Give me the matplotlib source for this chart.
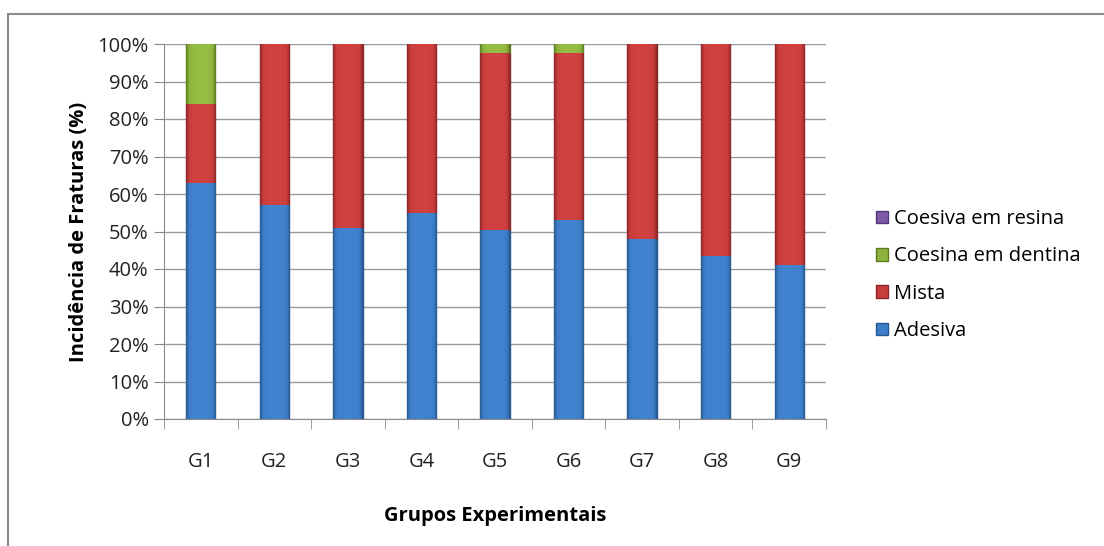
import matplotlib
matplotlib.use("Agg")
import matplotlib.pyplot as plt
import numpy as np
from matplotlib.patches import Rectangle
from matplotlib.colors import LinearSegmentedColormap

groups = ["G1", "G2", "G3", "G4", "G5", "G6", "G7", "G8", "G9"]
adesiva = [63, 57, 51, 55, 50.5, 53, 48, 43.5, 41]
mista = [21, 43, 49, 45, 47, 44.5, 52, 56.5, 59]
coesina_dentina = [16, 0, 0, 0, 2.5, 2.5, 0, 0, 0]
coesiva_resina = [0, 0, 0, 0, 0, 0, 0, 0, 0]
series_names = ["Adesiva", "Mista", "Coesina em dentina", "Coesiva em resina"]
yticks = [0, 10, 20, 30, 40, 50, 60, 70, 80, 90, 100]

colors = ["#3d7dc8", "#c93d3d", "#8db33c", "#7c5aa8"]
centers = ["#4283cf", "#d04141", "#96bd44", "#8463b2"]
edges = ["#285890", "#8c2626", "#5c7b20", "#523779"]

plt.rcParams['font.family'] = ['Open Sans', 'DejaVu Sans']

fig = plt.figure(figsize=(11.04, 5.46), dpi=100)
ax = fig.add_axes([164/1104, 1-419/546, (826-164)/1104, (419-44)/546])

x = np.arange(len(groups))
bottom = np.zeros(len(groups))
data = [adesiva, mista, coesina_dentina, coesiva_resina]
handles = []
grad = (np.abs(np.linspace(-1, 1, 64)) ** 3)[None, :]
for vals, c, cc, ec, name in zip(data, colors, centers, edges, series_names):
    vals = np.array(vals, dtype=float)
    b = ax.bar(x, vals, 0.4, bottom=bottom, color=c, edgecolor=ec, linewidth=1.0,
               label=name, zorder=3)
    cmap = LinearSegmentedColormap.from_list("g", [cc, c, ec])
    for p in b.patches:
        if p.get_height() <= 0:
            continue
        x0, y0 = p.get_x(), p.get_y()
        w, h = p.get_width(), p.get_height()
        im = ax.imshow(grad, cmap=cmap, vmin=0, vmax=1, aspect="auto",
                       extent=[x0, x0 + w, y0, y0 + h], zorder=3.5, interpolation="bilinear")
        im.set_clip_path(p)
    handles.append(b)
    bottom += vals

ax.set_xlim(-0.5, len(groups) - 0.5)
ax.set_ylim(0, 100)
ax.set_yticks(yticks)
ax.set_yticklabels([f"{t}%" for t in yticks], fontsize=14.5, color="#222222")
ax.yaxis.grid(True, color="#9a9a9a", linewidth=1.0, zorder=0)
ax.set_axisbelow(True)
ax.set_xticks(x)
ax.set_xticklabels(groups, fontsize=14.5, color="#222222")
ax.set_xticks(np.arange(-0.5, len(groups), 1), minor=True)
ax.tick_params(axis="x", which="major", length=0, pad=24)
ax.tick_params(axis="x", which="minor", length=7, color="#8a8a8a", direction="out")
ax.tick_params(axis="y", length=7, color="#8a8a8a", direction="out", pad=4)
for s in ["top", "right"]:
    ax.spines[s].set_visible(False)
ax.spines["left"].set_color("#8a8a8a")
ax.spines["bottom"].set_color("#8a8a8a")

ax.set_xlabel("Grupos Experimentais", fontsize=14.5, fontweight="bold", labelpad=24)
ax.set_ylabel("Incidência de Fraturas (%)", fontsize=14.5, fontweight="bold", labelpad=6)

leg = fig.legend(handles[::-1], series_names[::-1], loc="upper left",
                 bbox_to_anchor=(858/1104, 1-191/546), frameon=False,
                 fontsize=14.5, handlelength=0.6, handleheight=0.6, handletextpad=0.3,
                 labelspacing=0.86)

fig.patches.append(Rectangle((8/1104, -0.1), 1.2, 1-14/546 + 0.1, transform=fig.transFigure,
                             fill=False, edgecolor="#8a8a8a", linewidth=1.5))

fig.savefig("out.png", dpi=100)
